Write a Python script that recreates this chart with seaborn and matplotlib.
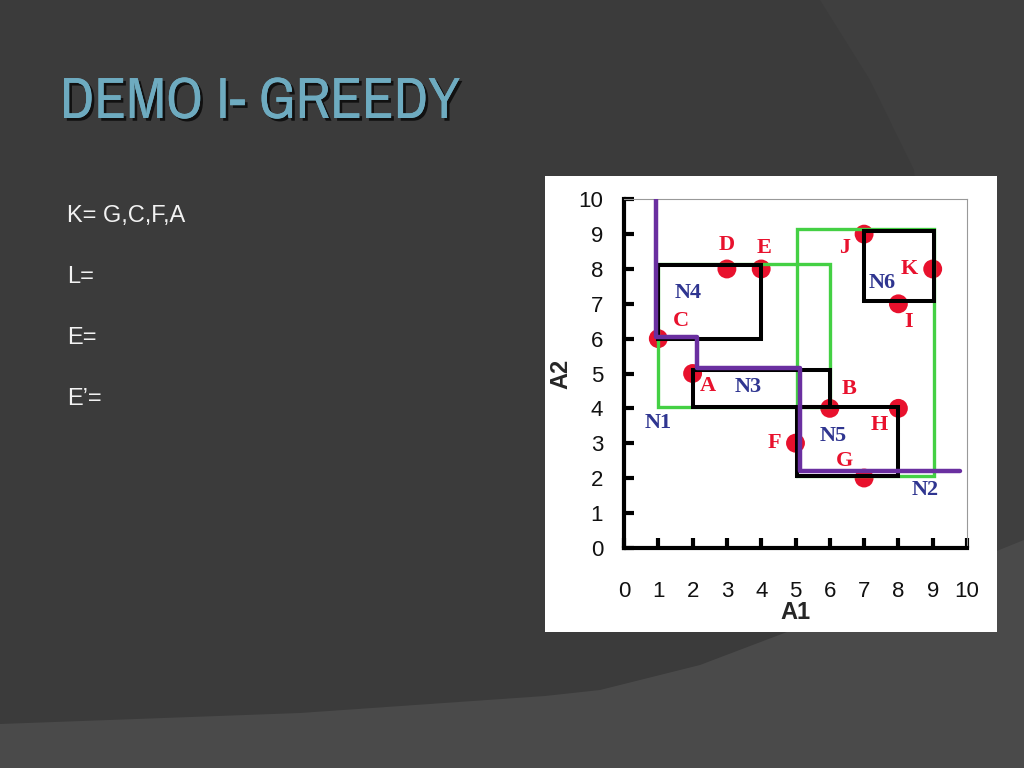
import numpy as np
import matplotlib.pyplot as plt
import seaborn as sns
import pandas as pd
from matplotlib import font_manager
from matplotlib.patches import Rectangle, Polygon
import matplotlib.patheffects as pe

# data points of the demo
point_names = ["A", "B", "C", "D", "E", "F", "G", "H", "I", "J", "K"]
point_a1 = [2, 6, 1, 3, 4, 5, 7, 8, 8, 7, 9]
point_a2 = [5, 4, 6, 8, 8, 3, 2, 4, 7, 9, 8]
# label offsets (points) for each letter
label_dx = [11, 14, 16, 0, 2, -15, -14, -14, 7, -14, -17]
label_dy = [-9, 14, 13, 17, 15, 0, 12, -12, -13, -10, 0]

# leaf MBRs (black) and parent MBRs (green): x0, y0, x1, y1
leaf_names = ["N3", "N4", "N5", "N6"]
leaf_x0 = [2, 1, 5.05, 7]
leaf_y0 = [4.05, 6, 2.05, 7.08]
leaf_x1 = [6, 4, 8, 9.03]
leaf_y1 = [5.1, 8.1, 4.05, 9.1]

parent_names = ["N1", "N2"]
parent_x0 = [1, 5.05]
parent_y0 = [4.05, 2.05]
parent_x1 = [6, 9.03]
parent_y1 = [8.15, 9.15]

# node label anchors
node_names = ["N1", "N2", "N3", "N4", "N5", "N6"]
node_x = [1.0, 8.78, 3.63, 1.88, 6.1, 7.52]
node_y = [3.59, 1.67, 4.6, 7.3, 3.2, 7.6]

# skyline / greedy boundary (purple staircase)
sky_a1 = [0.93, 0.93, 2.12, 2.12, 5.14, 5.14, 9.8]
sky_a2 = [10, 6.05, 6.05, 5.17, 5.17, 2.2, 2.2]

side_lines = ["K= G,C,F,A", "L=", "E=", "E\u2019="]

RED = "#e8112d"
NAVY = "#2f3590"
GREEN = "#44d044"
PURPLE = "#6a2fa0"

sns.set_style("ticks")
plt.rcParams["font.family"] = ["Liberation Sans", "DejaVu Sans"]

# pick a condensed sans for the title if one is installed
title_font, title_stretch = "Liberation Sans", "normal"
for f in font_manager.fontManager.ttflist:
    if "Narrow" in f.name or "Condensed" in f.name:
        title_font, title_stretch = f.name, f.stretch
        break
    if f.name == "DejaVu Sans" and str(f.stretch) in ("condensed", "semi-condensed"):
        title_font, title_stretch = f.name, f.stretch

fig = plt.figure(figsize=(10.24, 7.68), dpi=100)
fig.patch.set_facecolor("#3b3b3b")

# slide background
bg = fig.add_axes([0, 0, 1, 1], zorder=-10)
bg.set_xlim(0, 1024)
bg.set_ylim(768, 0)
bg.axis("off")
bg.add_patch(Polygon([(820, 0), (870, 80), (914, 170), (928, 320), (917, 633),
                      (880, 700), (840, 768), (1024, 768), (1024, 0)],
                     closed=True, facecolor="#3f3f3f", edgecolor="none"))
bg.add_patch(Polygon([(0, 724), (300, 713), (545, 696), (600, 690), (700, 665),
                      (787, 632), (900, 590), (1024, 540), (1024, 768), (0, 768)],
                     closed=True, facecolor="#4a4a4a", edgecolor="none"))

title = fig.text(60 / 1024, 1 - 118 / 768, "DEMO I- GREEDY", family=title_font,
                 fontstretch=title_stretch, fontweight="bold", fontsize=40,
                 color="#6eabc0", va="baseline",
                 path_effects=[pe.withSimplePatchShadow(offset=(2, -2), shadow_rgbFace="black", alpha=0.7),
                               pe.Normal()])
# fit the title to its width on the slide
renderer = fig.canvas.get_renderer()
w = title.get_window_extent(renderer).width
title.set_fontsize(min(43, 40 * 400 / w))

for i, line in enumerate(side_lines):
    fig.text(67 / 1024, 1 - (222 + 61 * i) / 768, line, fontsize=17,
             color="#f2f2f2", va="baseline")

# white picture panel
panel = fig.add_axes([545 / 1024, 1 - 632 / 768, 452 / 1024, 456 / 768])
panel.set_facecolor("white")
panel.set_xticks([])
panel.set_yticks([])
for s in panel.spines.values():
    s.set_visible(False)

ax = fig.add_axes([624 / 1024, 1 - 547.7 / 768, 343 / 1024, 348.4 / 768])
ax.set_facecolor("white")

sns.scatterplot(x=point_a1, y=point_a2, color=RED, s=185, edgecolor="none",
                ax=ax, zorder=2, clip_on=False)

for x0, y0, x1, y1 in zip(parent_x0, parent_y0, parent_x1, parent_y1):
    ax.add_patch(Rectangle((x0, y0), x1 - x0, y1 - y0, fill=False,
                           edgecolor=GREEN, lw=2.4, zorder=3))
for x0, y0, x1, y1 in zip(leaf_x0, leaf_y0, leaf_x1, leaf_y1):
    ax.add_patch(Rectangle((x0, y0), x1 - x0, y1 - y0, fill=False,
                           edgecolor="black", lw=2.9, zorder=4))

sky = pd.DataFrame({"A1": sky_a1, "A2": sky_a2})
sns.lineplot(data=sky, x="A1", y="A2", sort=False, estimator=None,
             color=PURPLE, lw=3.2, ax=ax, zorder=5)

for name, x, y, dx, dy in zip(point_names, point_a1, point_a2, label_dx, label_dy):
    ax.annotate(name, (x, y), xytext=(dx, dy), textcoords="offset points",
                ha="center", va="center", family="Liberation Serif",
                fontweight="bold", fontsize=16, color=RED, zorder=6)
for name, x, y in zip(node_names, node_x, node_y):
    ax.text(x, y, name, ha="center", va="center", family="Liberation Serif",
            fontweight="bold", fontsize=16, color=NAVY, zorder=6)

ax.set_xlim(0, 10)
ax.set_ylim(0, 10)
ax.set_xticks(range(11))
ax.set_yticks(range(11))
ax.tick_params(direction="in", length=7, width=3, color="black",
               labelsize=16, labelcolor="#111111")
ax.tick_params(axis="x", pad=24)
ax.tick_params(axis="y", pad=15)
for side in ["left", "bottom"]:
    ax.spines[side].set_linewidth(3)
    ax.spines[side].set_color("black")
for side in ["top", "right"]:
    ax.spines[side].set_visible(True)
    ax.spines[side].set_linewidth(0.8)
    ax.spines[side].set_color("#999999")
ax.set_xlabel("A1", fontsize=17, fontweight="bold", labelpad=-1)
ax.set_ylabel("A2", fontsize=17, fontweight="bold", labelpad=4)

fig.savefig("out.png", dpi=100, facecolor=fig.get_facecolor())
